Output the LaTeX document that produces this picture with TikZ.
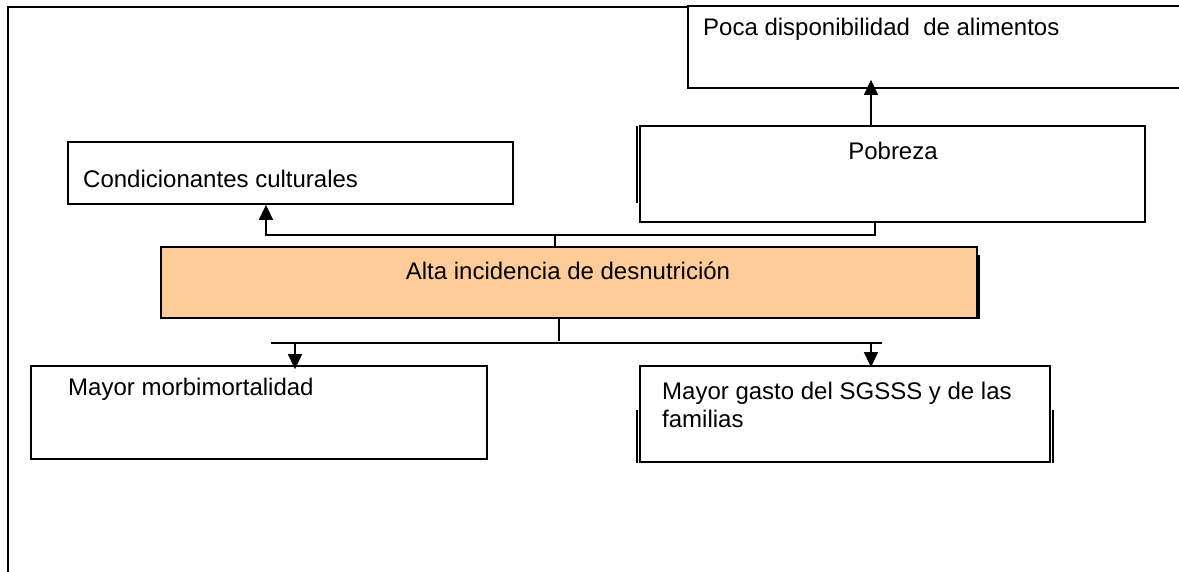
\documentclass[tikz,border=0pt]{standalone}
\usepackage{fontspec}
\setmainfont{Liberation Sans}
\usetikzlibrary{arrows.meta}
\begin{document}
\begin{tikzpicture}[x=1pt,y=-1pt,
  box/.style={draw=black, line width=1.8pt, rectangle, inner sep=0pt},
  lbl/.style={inner sep=0pt, font=\fontsize{24}{28}\selectfont},
  conn/.style={draw=black, line width=1.6pt},
  arr/.style={conn, -{Triangle[length=15pt,width=14pt]}}]
\useasboundingbox (0,0) rectangle (1179,571);
\clip (0,0) rectangle (1179,571);
% frame
\draw[line width=2.2pt] (688,7) -- (8,7);
\draw[line width=2.8pt] (8,6) -- (8,572);
% boxes
\node[box, minimum width=512pt, minimum height=82pt] (poca) at (944,47) {};
\node[box, minimum width=505pt, minimum height=96pt] (pobreza) at (892.5,174) {};
\node[box, minimum width=445pt, minimum height=62pt] (cond) at (290.5,173) {};
\node[box, fill={rgb,255:red,255;green,204;blue,153}, minimum width=816pt, minimum height=71pt] (alta) at (569,282.5) {};
\node[box, minimum width=456pt, minimum height=93pt] (morb) at (259,412.5) {};
\node[box, minimum width=410pt, minimum height=96pt] (gasto) at (845,414) {};
% shadow artefacts
\draw[conn] (637,126) -- (637,203);
\draw[line width=2.2pt] (979,255) -- (979,319);
\draw[conn] (637,410) -- (637,463);
\draw[conn] (1053,410) -- (1053,463);
% texts
\node[lbl, anchor=base west] (tpoca) at (703,35) {Poca disponibilidad\ \ de alimentos};
\node[lbl, anchor=base] (tpob) at (893,159) {Pobreza};
\node[lbl, anchor=base west] (tcond) at (83,187) {Condicionantes culturales};
\node[lbl, anchor=base] (talta) at (568,279) {Alta incidencia de desnutrición};
\node[lbl, anchor=base west] (tmorb) at (68,395) {Mayor morbimortalidad};
\node[lbl, anchor=base west, align=left] (tgasto) at (662,427) {Mayor gasto del SGSSS y de las\\familias};
% connectors
\coordinate (xa) at (871,0);
\draw[arr, shorten >=-9pt] (xa |- pobreza.north) -- (xa |- poca.south);
\coordinate (j1) at (875,235);
\coordinate (j2) at (266,235);
\draw[arr] (j1 |- pobreza.south) -- (j1) -- (j2) -- (j2 |- cond.south);
\coordinate (j3) at (555,235);
\draw[conn] (j3) -- (j3 |- alta.north);
\coordinate (j4) at (559,341);
\draw[conn] (j4 |- alta.south) -- (j4);
\coordinate (hl) at (271,343);
\coordinate (hr) at (882,343);
\draw[conn] (hl) -- (hr);
\coordinate (d1) at (295,343);
\draw[arr, shorten >=-4pt] (d1) -- (d1 |- morb.north);
\coordinate (d2) at (871,343);
\draw[arr, shorten >=-2pt] (d2) -- (d2 |- gasto.north);
\end{tikzpicture}
\end{document}
